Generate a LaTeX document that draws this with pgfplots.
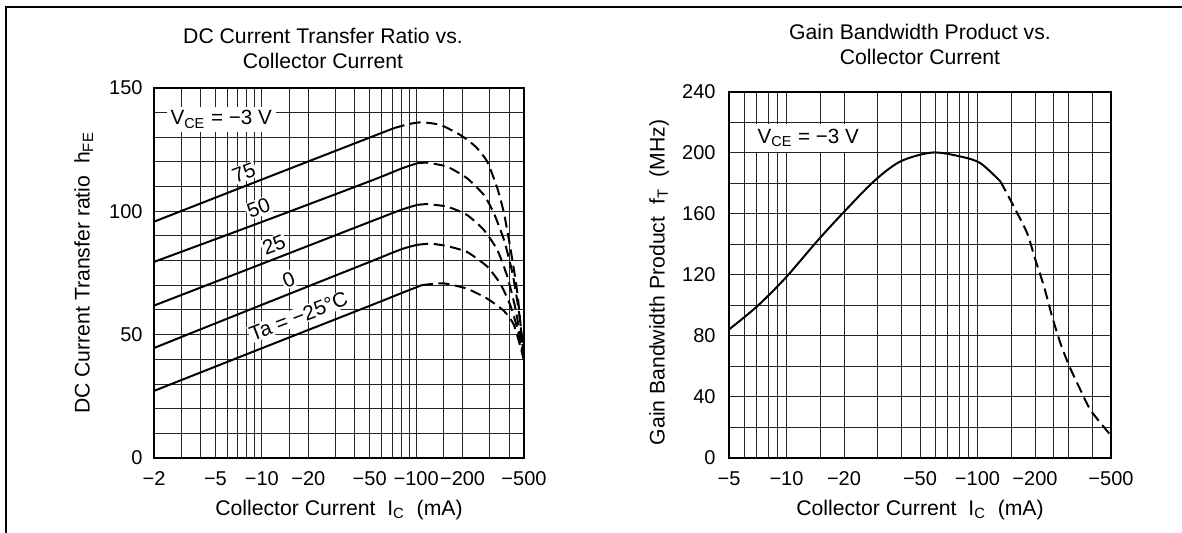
\documentclass[border=0pt]{standalone}
\usepackage{fontspec}
\setmainfont{Liberation Sans}
\usepackage{pgfplots}
\pgfplotsset{compat=1.18}

\pgfplotsset{
  every axis/.append style={
    scale only axis,
    grid=both,
    major grid style={line width=0.5pt, draw=black!85},
    minor grid style={line width=0.5pt, draw=black!85},
    major tick length=0pt, minor tick length=0pt,
    axis line style={line width=0.65pt},
    tick label style={font=\fontsize{10}{12}\selectfont},
    label style={font=\fontsize{10.6}{12}\selectfont},
    /pgf/number format/assume math mode=true,
    x tick label style={anchor=base, yshift=-13.5pt},
    y tick label style={anchor=east, inner sep=0pt, xshift=-5.5pt},
    xlabel style={at={(axis description cs:0.5,0)}, anchor=base, yshift=-28.5pt},
  },
}
\tikzset{
  curve/.style={black, line width=1pt, smooth, tension=0.5},
  dcurve/.style={black, line width=1pt, smooth, tension=0.35, dash pattern=on 5.5pt off 2.8pt},
  tag/.style={fill=white, inner sep=0.6pt, font=\fontsize{10.3}{12}\selectfont},
  ttl/.style={anchor=base, font=\fontsize{10.6}{12}\selectfont},
}

\begin{document}
\begin{tikzpicture}
\useasboundingbox (0,0) rectangle (591pt,-266.5pt);
\draw[line width=0.75pt] (3pt,-266.5pt) -- (3pt,-3.5pt) -- (591pt,-3.5pt);

% left: h_FE vs I_C
\begin{axis}[
  xmode=log,
  at={(77pt,-229pt)}, anchor=south west,
  width=185pt, height=185pt,
  xmin=2, xmax=500, ymin=0, ymax=150,
  xtick={2,5,10,20,50,100,200,500},
  xticklabels={−2,−5,−10,−20,−50,−100,−200,−500},
  minor xtick={3,4,6,7,8,9,15,30,40,60,70,80,90,150,300,400},
  ytick={0,50,100,150},
  minor ytick={10,20,30,40,60,70,80,90,110,120,130,140},
  xlabel={Collector Current\ \ I\textsubscript{C}\ \ (mA)},
  ylabel={DC Current Transfer ratio\ \ h\textsubscript{FE}},
  ylabel style={at={(axis description cs:-0.19,0.5)}, anchor=center},
]
% Ta = 75
\addplot[curve] coordinates {(2,95.8) (10,112.9) (50,129.9) (71.6,133.7)};
\addplot[dcurve] coordinates {(71.6,133.7) (90,135.4) (109,136.1) (144,135) (194,130.9) (243,126.2) (289,120.1) (336,109.3) (371,99.2) (410,84.3) (453,66.8) (500,39.7)};
% Ta = 50
\addplot[curve] coordinates {(2,79.5) (10,95.7) (50,112.2) (80,117.3) (101.6,119.5)};
\addplot[dcurve] coordinates {(101.6,119.5) (118,119.7) (159,118.1) (214,113.4) (275,106.6) (319,99.2) (371,88.4) (421,74.9) (465,58.7) (500,39.7)};
% Ta = 25
\addplot[curve] coordinates {(2,61.8) (10,78.7) (50,95.7) (80,100.6) (101.6,102.6)};
\addplot[dcurve] coordinates {(101.6,102.6) (118,102.9) (159,101.9) (214,98.5) (275,92.4) (336,84.3) (390,73.5) (442,60) (500,39.7)};
% Ta = 0
\addplot[curve] coordinates {(2,44.6) (10,62.1) (50,79.5) (80,84.6) (101.6,86.4)};
\addplot[dcurve] coordinates {(101.6,86.4) (124,86.9) (159,85.9) (214,83.5) (289,77.6) (353,70.4) (410,61.5) (453,52.3) (500,39.7)};
% Ta = -25
\addplot[curve] coordinates {(2,27.2) (10,44.5) (50,61.7) (80,66.8) (109,70.1)};
\addplot[dcurve] coordinates {(109,70.1) (151,70.8) (214,68.6) (289,64.6) (371,59.6) (431,53.8) (500,39.7)};

\node[tag, inner sep=2pt, anchor=base] at (axis cs:5.45,135) {V\textsubscript{CE} = −3 V};
\node[tag, rotate=21] at (axis cs:7.65,115.6) {75};
\node[tag, rotate=21] at (axis cs:9.51,101.4) {50};
\node[tag, rotate=21] at (axis cs:11.97,86.6) {25};
\node[tag, rotate=21] at (axis cs:14.9,72.4) {0};
\node[tag, rotate=21] at (axis cs:17.3,57.4) {Ta = −25°C};
\end{axis}

% right: f_T vs I_C
\begin{axis}[
  xmode=log,
  at={(364.5pt,-229pt)}, anchor=south west,
  width=191pt, height=183pt,
  xmin=5, xmax=500, ymin=0, ymax=240,
  xtick={5,10,20,50,100,200,500},
  xticklabels={−5,−10,−20,−50,−100,−200,−500},
  minor xtick={6,7,8,9,15,30,40,60,70,80,90,150,250,300,400},
  ytick={0,40,80,120,160,200,240},
  minor ytick={20,60,100,140,180,220},
  y tick label style={xshift=-1pt},
  xlabel={Collector Current\ \ I\textsubscript{C}\ \ (mA)},
  ylabel={Gain Bandwidth Product\ \ f\textsubscript{T}\ \ (MHz)},
  ylabel style={at={(axis description cs:-0.183,0.48)}, anchor=center},
]
\addplot[curve] coordinates {(5,84.3) (6.98,99.2) (9.83,117.8) (14.4,141.9) (19.7,160.5) (28.6,181.3) (39.4,194.4) (57.8,200.3) (81.4,197.7) (103.6,193.3) (131.9,181.3)};
\addplot[dcurve] coordinates {(131.9,181.3) (155,164.9) (182,147.4) (201,129.9) (223,112.4) (246,92.6) (272,75.1) (301,60.8) (340,46.6) (391,31.3) (498,14.9)};
\node[tag, inner sep=2.5pt, anchor=base] at (axis cs:13.0,206.4) {V\textsubscript{CE} = −3 V};
\end{axis}

\node[ttl] at (161.5pt,-22pt) {DC Current Transfer Ratio vs.};
\node[ttl] at (161.5pt,-34.5pt) {Collector Current};
\node[ttl] at (460pt,-20pt) {Gain Bandwidth Product vs.};
\node[ttl] at (460pt,-32.5pt) {Collector Current};
\end{tikzpicture}
\end{document}
